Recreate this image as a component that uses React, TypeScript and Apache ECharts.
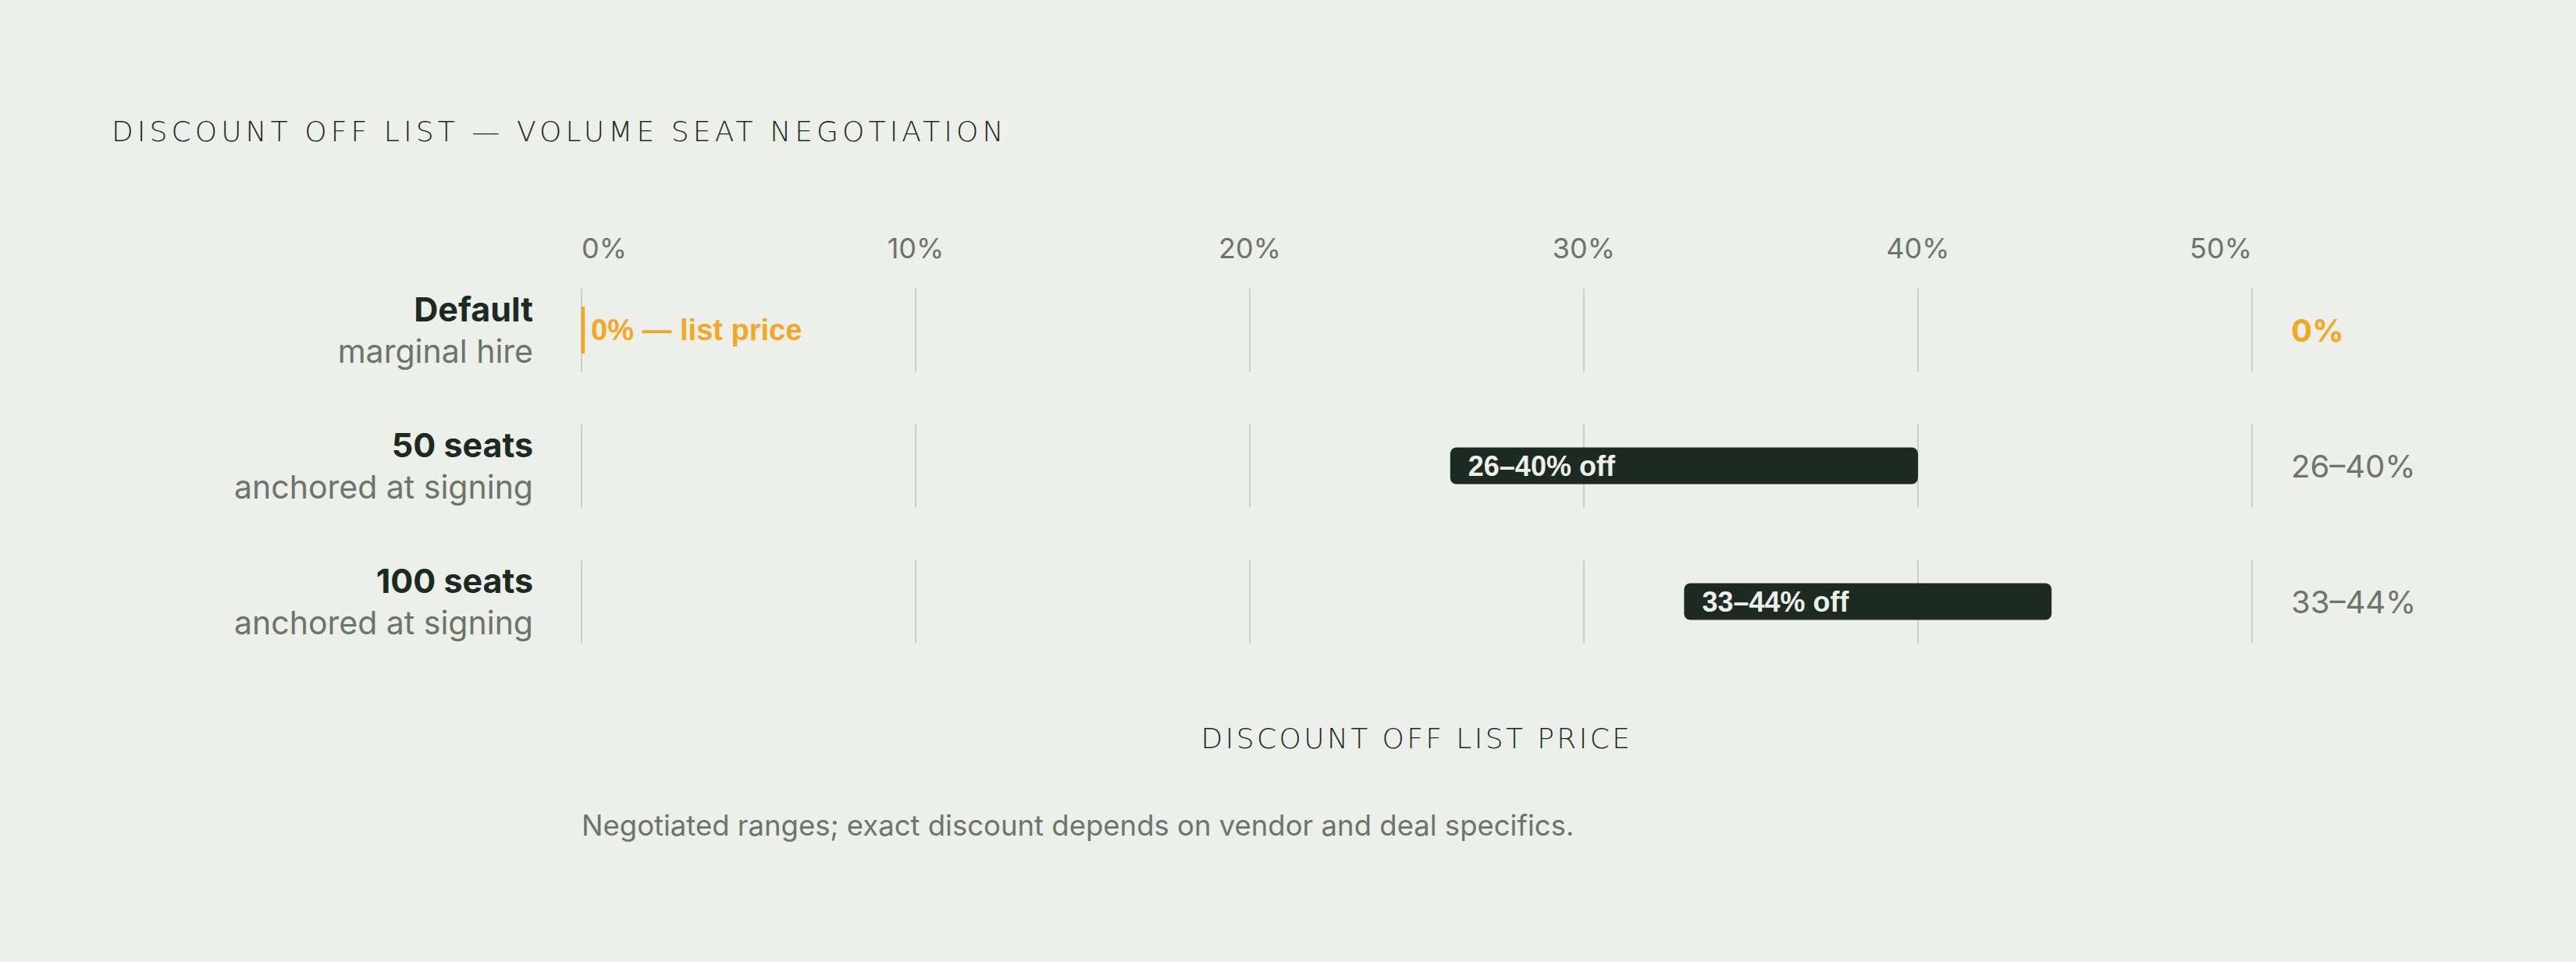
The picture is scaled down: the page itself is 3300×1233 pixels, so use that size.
import React, { useEffect, useRef } from 'react';
import * as echarts from 'echarts';

// data
const categories = ['Default', '50 seats', '100 seats'];
const subtitles = ['marginal hire', 'anchored at signing', 'anchored at signing'];
const lowValues = [0, 26, 33];
const highValues = [0, 40, 44];
const barLabels = ['0% — list price', '26–40% off', '33–44% off'];
const rangeLabels = ['0%', '26–40%', '33–44%'];
const xTicks = [0, 10, 20, 30, 40, 50];

const TITLE = 'DISCOUNT OFF LIST — VOLUME SEAT NEGOTIATION';
const AXIS_NAME = 'DISCOUNT OFF LIST PRICE';
const FOOTNOTE = 'Negotiated ranges; exact discount depends on vendor and deal specifics.';

const BG = '#edefea';
const DARK = '#1c2a21';
const GRAY = '#6b7569';
const ORANGE = '#f5a623';
const GRID_LINE = '#cdcfca';
const SANS = 'Inter, "Noto Sans", sans-serif';
const WIDE = '"DejaVu Sans", sans-serif';
const ARIAL = '"Liberation Sans", Arial, sans-serif';

// tracking for the spaced caps headings (svg letter-spacing, px)
const LETTER_SPACING: Record<string, number> = { [TITLE]: 5.1, [AXIS_NAME]: 3.4 };

const App: React.FC = () => {
  const chartRef = useRef<HTMLDivElement>(null);

  useEffect(() => {
    if (!chartRef.current) return;
    const chart = echarts.init(chartRef.current, undefined, { renderer: 'svg' });

    // gridline segments: one per row and tick
    const gridData: number[][] = [];
    categories.forEach((_, c) => xTicks.forEach(v => gridData.push([v, c])));

    const rangeData = categories.map((_, c) => [c, lowValues[c], highValues[c]]);

    const option = {
      animation: false,
      backgroundColor: BG,
      grid: { left: 745, right: 415, top: 336, height: 522, containLabel: false },
      xAxis: {
        type: 'value',
        position: 'top',
        min: 0,
        max: 50,
        interval: 10,
        axisLine: { show: false },
        axisTick: { show: false },
        splitLine: { show: false },
        axisLabel: {
          formatter: '{value}%',
          color: GRAY,
          fontFamily: SANS,
          fontSize: 36,
          margin: 18,
          verticalAlign: 'middle',
          alignMinLabel: 'left',
          alignMaxLabel: 'right'
        }
      },
      yAxis: [
        {
          type: 'category',
          data: categories,
          inverse: true,
          axisLine: { show: false },
          axisTick: { show: false },
          splitLine: { show: false },
          axisLabel: {
            margin: 62,
            align: 'right',
            formatter: (value: string, index: number) => `{b|${value}}\n{s|${subtitles[index]}}`,
            rich: {
              b: { fontFamily: SANS, fontWeight: 'bold', fontSize: 43, color: DARK, lineHeight: 54, align: 'right' },
              s: { fontFamily: SANS, fontSize: 41, color: GRAY, lineHeight: 54, align: 'right' }
            }
          }
        },
        {
          type: 'category',
          data: categories,
          inverse: true,
          position: 'right',
          axisLine: { show: false },
          axisTick: { show: false },
          splitLine: { show: false },
          axisLabel: {
            margin: 50,
            align: 'left',
            formatter: (_: string, index: number) =>
              lowValues[index] === highValues[index] ? `{o|${rangeLabels[index]}}` : `{g|${rangeLabels[index]}}`,
            rich: {
              o: { fontFamily: SANS, fontWeight: 'bold', fontSize: 40, color: ORANGE },
              g: { fontFamily: SANS, fontSize: 40, color: GRAY }
            }
          }
        }
      ],
      series: [
        {
          type: 'custom',
          data: gridData,
          encode: { x: 0, y: 1 },
          silent: true,
          z: 1,
          renderItem: (params: any, api: any) => {
            const p = api.coord([api.value(0), api.value(1)]);
            const band = api.size([0, 1])[1];
            const h = band * 0.615;
            return {
              type: 'line',
              shape: { x1: p[0], y1: p[1] - h / 2, x2: p[0], y2: p[1] + h / 2 },
              style: { stroke: GRID_LINE, lineWidth: 2 }
            };
          }
        },
        {
          type: 'custom',
          data: rangeData,
          encode: { x: [1, 2], y: 0 },
          z: 2,
          renderItem: (params: any, api: any) => {
            const c = api.value(0);
            const lo = api.value(1);
            const hi = api.value(2);
            const start = api.coord([lo, c]);
            const end = api.coord([hi, c]);
            const band = api.size([0, 1])[1];
            const label = barLabels[params.dataIndex];
            if (lo === hi) {
              // zero-width range: thin marker plus label
              const h = band * 0.345;
              return {
                type: 'group',
                children: [
                  {
                    type: 'rect',
                    shape: { x: start[0] - 0.5, y: start[1] - h / 2, width: 4.5, height: h },
                    style: { fill: ORANGE }
                  },
                  {
                    type: 'text',
                    style: {
                      text: label, x: start[0] + 12, y: start[1],
                      fill: ORANGE, fontFamily: ARIAL, fontWeight: 'bold', fontSize: 38,
                      align: 'left', verticalAlign: 'middle', textAlign: 'left', textVerticalAlign: 'middle'
                    }
                  }
                ]
              };
            }
            const h = band * 0.27;
            return {
              type: 'group',
              children: [
                {
                  type: 'rect',
                  shape: { x: start[0], y: start[1] - h / 2, width: end[0] - start[0], height: h, r: 8 },
                  style: { fill: DARK }
                },
                {
                  type: 'text',
                  style: {
                    text: label, x: start[0] + 23, y: start[1],
                    fill: BG, fontFamily: ARIAL, fontWeight: 'bold', fontSize: 36,
                    align: 'left', verticalAlign: 'middle', textAlign: 'left', textVerticalAlign: 'middle'
                  }
                }
              ]
            };
          }
        }
      ],
      graphic: [
        {
          type: 'text',
          x: 143,
          y: 168,
          style: {
            text: TITLE, fill: DARK, fontFamily: WIDE, fontWeight: 200, fontSize: 36,
            align: 'left', verticalAlign: 'middle', textAlign: 'left', textVerticalAlign: 'middle'
          }
        },
        {
          type: 'text',
          x: 1815,
          y: 946,
          style: {
            text: AXIS_NAME, fill: DARK, fontFamily: WIDE, fontWeight: 200, fontSize: 36,
            align: 'center', verticalAlign: 'middle', textAlign: 'center', textVerticalAlign: 'middle'
          }
        },
        {
          type: 'text',
          x: 745,
          y: 1058,
          style: {
            text: FOOTNOTE, fill: GRAY, fontFamily: SANS, fontSize: 36.5,
            align: 'left', verticalAlign: 'middle', textAlign: 'left', textVerticalAlign: 'middle'
          }
        }
      ]
    };

    chart.setOption(option as any);

    // svg has letter-spacing, echarts does not: add it to the spaced headings
    chartRef.current.querySelectorAll('text').forEach(t => {
      const ls = LETTER_SPACING[t.textContent || ''];
      if (ls) t.setAttribute('letter-spacing', String(ls));
    });

    const handleResize = () => chart.resize();
    window.addEventListener('resize', handleResize);
    return () => {
      window.removeEventListener('resize', handleResize);
      chart.dispose();
    };
  }, []);

  return (
    <div
      ref={chartRef}
      style={{ position: 'fixed', left: 0, top: 0, width: 3300, height: 1233, background: BG }}
    />
  );
};

export default App;
